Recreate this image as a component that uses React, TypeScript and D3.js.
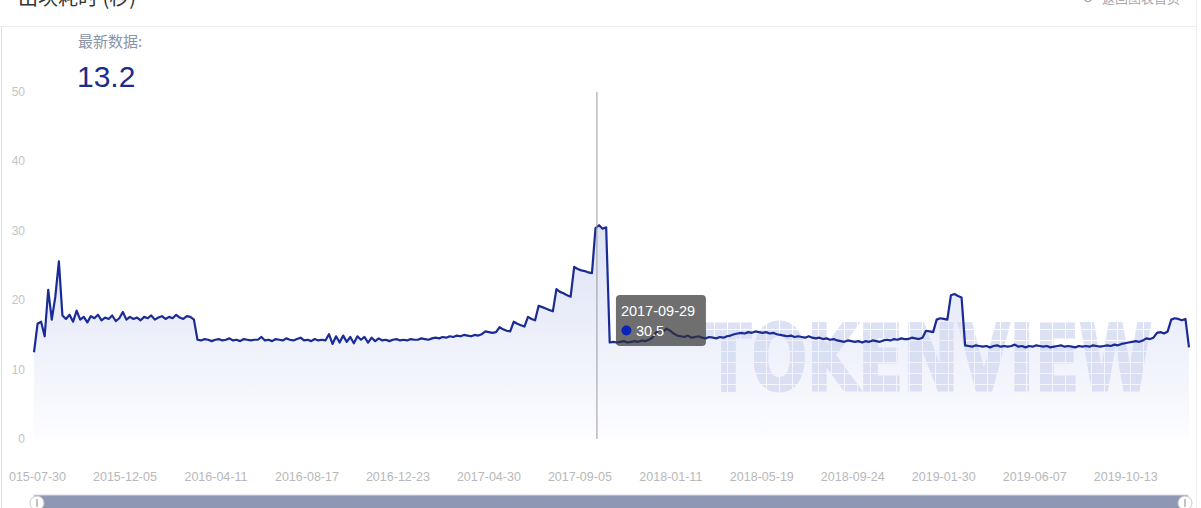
import { useEffect, useRef } from "react";
import * as d3 from "d3";

// daily block time sampled every 5 days, starting at START_DATE
const START_DATE = "2015-07-30";
const STEP_DAYS = 5;

const blockTimes = [
  12.5, 16.6, 16.9, 14.8, 21.5, 17.2, 20.5, 25.6, 17.8, 17.3,
  17.9, 16.9, 18.5, 17.2, 17.6, 16.8, 17.7, 17.4, 17.9, 17.1,
  17.5, 17.3, 17.8, 17.0, 17.4, 18.3, 17.2, 17.6, 17.3, 17.5,
  17.1, 17.6, 17.4, 17.8, 17.2, 17.5, 17.7, 17.3, 17.6, 17.4,
  17.9, 17.5, 17.3, 17.7, 17.6, 17.2, 14.3, 14.2, 14.4, 14.3,
  14.1, 14.3, 14.4, 14.2, 14.3, 14.5, 14.2, 14.3, 14.1, 14.4,
  14.3, 14.2, 14.3, 14.3, 14.7, 14.2, 14.3, 14.1, 14.4, 14.3,
  14.2, 14.5, 14.3, 14.2, 14.4, 14.6, 14.2, 14.3, 14.1, 14.4,
  14.2, 14.3, 14.2, 15.1, 13.7, 14.8, 13.9, 14.9, 14.0, 14.7,
  13.8, 14.8, 14.3, 14.7, 13.9, 14.6, 14.1, 14.5, 14.2, 14.3,
  14.1, 14.3, 14.4, 14.2, 14.3, 14.2, 14.4, 14.3, 14.3, 14.5,
  14.4, 14.3, 14.5, 14.6, 14.5, 14.7, 14.6, 14.8, 14.7, 14.9,
  14.8, 15.0, 14.9, 14.8, 15.0, 14.9, 15.1, 15.5, 15.4, 15.3,
  15.4, 16.1, 15.8, 15.6, 15.5, 16.9, 16.6, 16.4, 16.2, 17.6,
  17.3, 17.1, 19.2, 19.0, 18.8, 18.6, 18.4, 21.6, 21.2, 21.0,
  20.7, 20.5, 24.8, 24.5, 24.3, 24.2, 24.0, 23.9, 30.4, 30.8,
  30.3, 30.5, 13.9, 14.0, 13.9, 14.0, 14.1, 13.9, 14.0, 14.1,
  14.0, 14.2, 14.1, 14.3, 14.6, 15.3, 15.8, 15.5, 15.9, 15.6,
  15.2, 14.9, 14.8, 14.7, 14.9, 14.6, 14.7, 14.8, 14.6, 14.5,
  14.7, 14.6, 14.5, 14.7, 14.6, 14.8, 14.9, 15.1, 15.2, 15.3,
  15.2, 15.4, 15.3, 15.5, 15.4, 15.3, 15.4, 15.2, 15.3, 15.1,
  15.0, 14.9, 14.8, 14.9, 14.7, 14.8, 14.7, 14.6, 14.8, 14.6,
  14.5, 14.6, 14.4, 14.5, 14.3, 14.4, 14.2, 14.1, 14.0, 14.2,
  14.1, 14.0, 14.1, 13.9, 14.1, 14.0, 14.2, 14.1, 14.0, 14.2,
  14.3, 14.2, 14.4, 14.3, 14.5, 14.4, 14.4, 14.6, 14.5, 14.4,
  14.6, 15.6, 15.5, 15.4, 17.2, 17.4, 17.3, 17.2, 20.7, 20.9,
  20.6, 20.4, 13.5, 13.4, 13.3, 13.5, 13.4, 13.3, 13.4, 13.2,
  13.4, 13.5, 13.3, 13.4, 13.3, 13.4, 13.6, 13.3, 13.4, 13.2,
  13.4, 13.3, 13.5, 13.4, 13.3, 13.4, 13.2, 13.3, 13.4, 13.5,
  13.3, 13.4, 13.3, 13.2, 13.4, 13.3, 13.4, 13.3, 13.5, 13.4,
  13.3, 13.4, 13.5, 13.4, 13.6, 13.5, 13.7, 13.8, 13.9, 14.0,
  14.1, 14.0, 14.2, 14.5, 14.4, 14.6, 15.3, 15.4, 15.2, 15.5,
  17.2, 17.4, 17.3, 17.1, 17.3, 13.2,
];

const xTickLabels = [
  "2015-07-30", "2015-12-05", "2016-04-11", "2016-08-17", "2016-12-23",
  "2017-04-30", "2017-09-05", "2018-01-11", "2018-05-19", "2018-09-24",
  "2019-01-30", "2019-06-07", "2019-10-13",
];
const yTickValues = [0, 10, 20, 30, 40, 50];

const chartTitle = "出块耗时 (秒)";
const backLabel = "返回图表首页";
const latestLabel = "最新数据:";
const latestValue = "13.2";
const tooltipDate = "2017-09-29";
const tooltipValue = 30.5;

const LATIN = "'Liberation Sans', Arial, sans-serif";
const CJK = "'Noto Sans CJK SC', 'Noto Sans', sans-serif";

export default function App() {
  const svgRef = useRef<SVGSVGElement>(null);

  useEffect(() => {
    if (!svgRef.current) return;
    const svg = d3.select(svgRef.current);
    const width = 1201;
    const height = 508;
    svg.selectAll("*").remove();

    const parse = d3.timeParse("%Y-%m-%d");
    const start = parse(START_DATE)!;
    const points = blockTimes.map((v, i) => ({
      date: d3.timeDay.offset(start, i * STEP_DAYS),
      value: v,
    }));

    const x = d3
      .scaleTime()
      .domain([start, points[points.length - 1].date])
      .range([34, 1189]);
    const y = d3.scaleLinear().domain([0, 50]).range([439, 92]);

    svg.append("rect").attr("width", width).attr("height", height).attr("fill", "#fff");

    const defs = svg.append("defs");
    const grad = defs
      .append("linearGradient")
      .attr("id", "areaGrad")
      .attr("gradientUnits", "userSpaceOnUse")
      .attr("x1", 0)
      .attr("x2", 0)
      .attr("y1", y(31))
      .attr("y2", y(0));
    grad.append("stop").attr("offset", "0%").attr("stop-color", "#dce1f5");
    grad.append("stop").attr("offset", "100%").attr("stop-color", "#fdfdff");

    const wm = defs
      .append("pattern")
      .attr("id", "wmCells")
      .attr("patternUnits", "userSpaceOnUse")
      .attr("width", 13)
      .attr("height", 11);
    wm.append("rect").attr("width", 12).attr("height", 10).attr("fill", "#d6dcf2");

    defs
      .append("clipPath")
      .attr("id", "labelClip")
      .append("rect")
      .attr("x", 9)
      .attr("y", 440)
      .attr("width", width - 9)
      .attr("height", 60);

    // Header (cut at the top edge, as in the page capture)
    svg
      .append("text")
      .attr("x", 18)
      .attr("y", 5)
      .attr("font-family", CJK)
      .attr("font-size", 20)
      .attr("fill", "#333")
      .text(chartTitle);

    svg
      .append("text")
      .attr("x", 1082)
      .attr("y", 3)
      .attr("font-family", "'DejaVu Sans', sans-serif")
      .attr("font-size", 14)
      .attr("fill", "#aaa")
      .text("↺");
    svg
      .append("text")
      .attr("x", 1102)
      .attr("y", 3)
      .attr("font-family", CJK)
      .attr("font-size", 13)
      .attr("fill", "#aaa")
      .text(backLabel);

    svg
      .append("line")
      .attr("x1", 0)
      .attr("x2", 1197)
      .attr("y1", 26.5)
      .attr("y2", 26.5)
      .attr("stroke", "#ececec");
    svg
      .append("line")
      .attr("x1", 1.5)
      .attr("x2", 1.5)
      .attr("y1", 26)
      .attr("y2", height)
      .attr("stroke", "#e2e2e2");
    svg
      .append("line")
      .attr("x1", 1196.5)
      .attr("x2", 1196.5)
      .attr("y1", 0)
      .attr("y2", height)
      .attr("stroke", "#eeeeee");

    // Latest value
    svg
      .append("text")
      .attr("x", 78)
      .attr("y", 47)
      .attr("font-family", CJK)
      .attr("font-size", 15)
      .attr("fill", "#8b94a7")
      .text(latestLabel);
    svg
      .append("text")
      .attr("x", 77)
      .attr("y", 87)
      .attr("font-family", LATIN)
      .attr("font-size", 30)
      .attr("fill", "#1c2c8e")
      .text(latestValue);

    // Y axis labels
    svg
      .append("g")
      .selectAll("text")
      .data(yTickValues)
      .join("text")
      .attr("x", 25)
      .attr("y", (d) => y(d) + 4)
      .attr("text-anchor", "end")
      .attr("font-family", LATIN)
      .attr("font-size", 12)
      .attr("fill", "#c4c4c4")
      .text((d) => d);

    // X axis labels
    svg
      .append("g")
      .attr("clip-path", "url(#labelClip)")
      .selectAll("text")
      .data(xTickLabels)
      .join("text")
      .attr("x", (d) => x(parse(d)!))
      .attr("y", 481)
      .attr("text-anchor", "middle")
      .attr("font-family", LATIN)
      .attr("font-size", 12.5)
      .attr("fill", "#b8b8b8")
      .text((d) => d);

    // Area
    const area = d3
      .area<{ date: Date; value: number }>()
      .x((d) => x(d.date))
      .y0(y(0))
      .y1((d) => y(d.value));
    svg.append("path").datum(points).attr("d", area).attr("fill", "url(#areaGrad)");

    // Watermark
    svg
      .append("text")
      .attr("x", 706)
      .attr("y", 390)
      .attr("font-family", "'DejaVu Sans', sans-serif")
      .attr("font-weight", "bold")
      .attr("font-size", 90)
      .attr("textLength", 446)
      .attr("lengthAdjust", "spacingAndGlyphs")
      .attr("fill", "url(#wmCells)")
      .attr("stroke", "url(#wmCells)")
      .attr("stroke-width", 3)
      .attr("opacity", 0.85)
      .text("TOKENVIEW");

    // Line
    const line = d3
      .line<{ date: Date; value: number }>()
      .x((d) => x(d.date))
      .y((d) => y(d.value));
    svg
      .append("path")
      .datum(points)
      .attr("d", line)
      .attr("fill", "none")
      .attr("stroke", "#1a2b95")
      .attr("stroke-width", 2.2)
      .attr("stroke-linejoin", "round");

    // Crosshair + tooltip
    const cx = x(parse(tooltipDate)!);
    svg
      .append("line")
      .attr("x1", cx)
      .attr("x2", cx)
      .attr("y1", y(50))
      .attr("y2", y(0))
      .attr("stroke", "#999")
      .attr("stroke-width", 1);

    const tip = svg.append("g").attr("transform", `translate(${cx + 19},295)`);
    tip
      .append("rect")
      .attr("width", 90)
      .attr("height", 51)
      .attr("rx", 4)
      .attr("fill", "rgba(50,50,50,0.7)");
    tip
      .append("text")
      .attr("x", 5)
      .attr("y", 21)
      .attr("font-family", LATIN)
      .attr("font-size", 14.5)
      .attr("fill", "#fff")
      .text(tooltipDate);
    tip.append("circle").attr("cx", 10.5).attr("cy", 35.5).attr("r", 5).attr("fill", "#0b23b3");
    tip
      .append("text")
      .attr("x", 20)
      .attr("y", 41)
      .attr("font-family", LATIN)
      .attr("font-size", 14.5)
      .attr("fill", "#fff")
      .text(tooltipValue.toFixed(1));

    // Data zoom slider
    svg
      .append("rect")
      .attr("x", 34)
      .attr("y", 495)
      .attr("width", 1154)
      .attr("height", 20)
      .attr("fill", "#8e98b4")
      .attr("stroke", "#d4d9e6")
      .attr("stroke-width", 1);
    [37, 1185].forEach((hx) => {
      svg
        .append("circle")
        .attr("cx", hx)
        .attr("cy", 503)
        .attr("r", 7)
        .attr("fill", "#fff")
        .attr("stroke", "#c8c8c8");
      svg
        .append("line")
        .attr("x1", hx)
        .attr("x2", hx)
        .attr("y1", 499)
        .attr("y2", 507)
        .attr("stroke", "#999")
        .attr("stroke-width", 1.2);
    });
  }, []);

  return (
    <svg
      ref={svgRef}
      width={1201}
      height={508}
      style={{ position: "absolute", left: 0, top: 0, display: "block" }}
    ></svg>
  );
}
